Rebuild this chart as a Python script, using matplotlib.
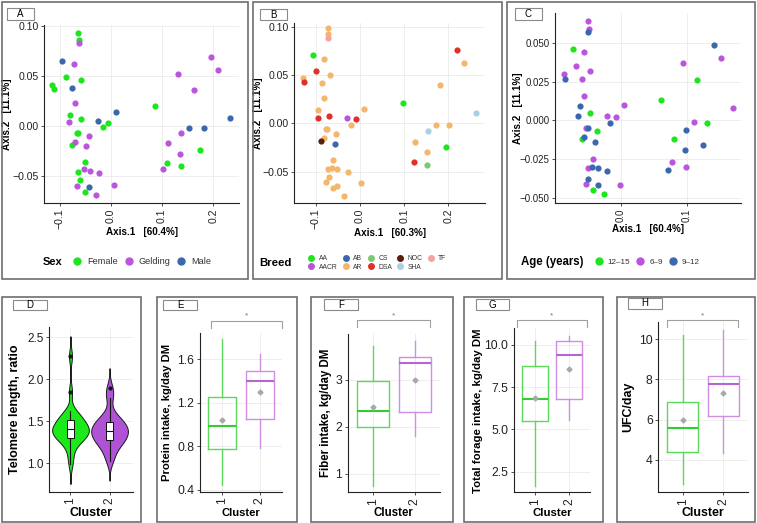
import matplotlib
matplotlib.use("Agg")
import matplotlib.pyplot as plt
import numpy as np
from matplotlib.lines import Line2D
from matplotlib.patches import Rectangle

W, H = 757, 523
plt.rcParams['font.family'] = ['Liberation Sans', 'DejaVu Sans']

GREEN = '#1ee61e'
PURPLE = '#bb55dd'
BLUE = '#3b67ad'

# ---- panel A: PCoA coloured by sex ----
female_x = [-0.065, -0.062, -0.115, -0.112, -0.089, -0.059, -0.081, -0.059, -0.066, -0.064, -0.076,
            -0.016, -0.005, -0.051, -0.064, -0.061, -0.051, 0.086, 0.109, 0.136, 0.174]
female_y = [0.093, 0.086, 0.041, 0.037, 0.049, 0.046, 0.011, 0.007, -0.007, -0.007, -0.019,
            -0.001, 0.003, -0.036, -0.046, -0.054, -0.066, 0.020, -0.037, -0.040, -0.024]
gelding_x = [-0.063, -0.072, -0.071, -0.083, -0.044, -0.071, -0.048, -0.053, -0.042, -0.024, -0.067,
             0.005, -0.029, 0.132, 0.162, 0.196, 0.209, 0.137, 0.112, 0.135, 0.101]
gelding_y = [0.083, 0.062, 0.023, 0.004, -0.010, -0.016, -0.020, -0.043, -0.045, -0.047, -0.060,
             -0.059, -0.069, 0.052, 0.036, 0.069, 0.056, -0.007, -0.017, -0.028, -0.043]
male_x = [-0.095, -0.076, 0.010, -0.025, -0.043, 0.153, 0.181, 0.233]
male_y = [0.065, 0.038, 0.014, 0.005, -0.061, -0.002, -0.002, 0.008]

# ---- panel B: PCoA coloured by breed ----
breeds = ['AA', 'AACR', 'AB', 'AR', 'CS', 'DSA', 'NOC', 'SHA', 'TF']
breed_colors = ['#1ee61e', '#b955d8', '#3b67ad', '#f5b56b', '#7cc873', '#e0302a', '#5a1e0a', '#a9cfe3', '#f4a3a3']
ar_x = [-0.073, -0.072, -0.081, -0.129, -0.086, -0.068, -0.081, -0.094, -0.076, -0.074, -0.081,
        -0.054, -0.021, 0.010, -0.062, -0.073, -0.064, -0.051, -0.070, -0.077, -0.060, -0.052,
        -0.028, 0.002, -0.037, 0.182, 0.234, 0.171, 0.202, 0.125, 0.152]
ar_y = [0.099, 0.092, 0.067, 0.047, 0.042, 0.050, 0.026, 0.014, -0.006, -0.006, -0.015,
        -0.011, -0.002, 0.015, -0.038, -0.047, -0.046, -0.047, -0.055, -0.061, -0.067, -0.065,
        -0.050, -0.062, -0.075, 0.040, 0.062, -0.002, -0.002, -0.019, -0.030]
aa_x = [-0.107, 0.097, 0.195]
aa_y = [0.071, 0.021, -0.024]
dsa_x = [-0.100, -0.127, -0.096, -0.069, -0.008, 0.121, 0.220]
dsa_y = [0.054, 0.043, 0.006, 0.008, 0.004, -0.040, 0.076]
aacr_x = [-0.030]
aacr_y = [0.006]
ab_x = [-0.057]
ab_y = [-0.021]
cs_x = [0.152]
cs_y = [-0.043]
noc_x = [-0.089]
noc_y = [-0.018]
sha_x = [0.153, 0.263]
sha_y = [-0.008, 0.011]
tf_x = [-0.072]
tf_y = [0.088]

# ---- panel C: PCoA coloured by age ----
age_6_9_x = [-0.050, -0.048, -0.057, -0.069, -0.047, -0.087, -0.059, -0.056, 0.004, -0.022, -0.007,
             -0.053, -0.042, -0.051, -0.054, -0.001, 0.094, 0.152, 0.170, 0.111, 0.078, 0.099]
age_6_9_y = [0.064, 0.059, 0.044, 0.035, 0.032, 0.030, 0.027, 0.016, 0.010, 0.003, 0.002,
             -0.005, -0.025, -0.031, -0.041, -0.042, 0.037, 0.040, 0.008, -0.001, -0.027, -0.030]
age_9_12_x = [-0.050, -0.085, -0.062, -0.065, -0.051, -0.056, -0.040, -0.016, -0.044, -0.035, -0.021,
              -0.050, -0.035, 0.142, 0.099, 0.098, 0.125, 0.072]
age_9_12_y = [0.057, 0.027, 0.009, 0.003, -0.005, -0.011, -0.014, -0.002, -0.030, -0.031, -0.033,
              -0.038, -0.042, 0.049, -0.006, -0.019, -0.016, -0.032]
age_12_15_x = [-0.073, -0.047, -0.037, -0.060, -0.042, -0.026, 0.061, 0.116, 0.131, 0.080]
age_12_15_y = [0.046, 0.005, -0.007, -0.012, -0.045, -0.048, 0.013, 0.026, -0.002, -0.012]

# ---- panel D: telomere length per cluster ----
telomere_c1 = [0.99, 1.10, 1.19, 1.25, 1.28, 1.29, 1.30, 1.31, 1.34, 1.36, 1.38, 1.39, 1.40,
               1.40, 1.41, 1.43, 1.45, 1.47, 1.50, 1.52, 1.53, 1.56, 1.59, 1.62, 1.85, 2.27]
telomere_c2 = [1.03, 1.12, 1.19, 1.23, 1.26, 1.28, 1.31, 1.34, 1.36, 1.38, 1.40, 1.42, 1.45,
               1.48, 1.50, 1.53, 1.60, 1.78, 1.89]

# ---- panels E-H: box summaries [whisker low, q1, median, q3, whisker high, mean] ----
protein = [[0.44, 0.777, 0.983, 1.25, 1.79, 1.038], [0.784, 1.054, 1.40, 1.493, 1.646, 1.302]]
fiber = [[0.75, 2.0, 2.34, 2.96, 3.72, 2.41], [1.81, 2.32, 3.36, 3.48, 3.81, 2.99]]
forage = [[1.7, 5.5, 6.82, 8.76, 10.24, 6.88], [5.56, 6.82, 9.37, 10.24, 10.53, 8.59]]
ufc = [[2.77, 4.40, 5.56, 6.89, 10.22, 5.96], [4.33, 6.16, 7.77, 8.19, 10.47, 7.34]]

fig = plt.figure(figsize=(W / 100, H / 100), dpi=100)


def add_ax(x0, y0, x1, y1):
    return fig.add_axes([x0 / W, 1 - y1 / H, (x1 - x0) / W, (y1 - y0) / H])


def frame(x0, y0, x1, y1):
    fig.add_artist(Rectangle((x0 / W, 1 - y1 / H), (x1 - x0) / W, (y1 - y0) / H,
                             transform=fig.transFigure, fill=False, ec='#6e6e6e', lw=1.2))


def tag(x0, y0, x1, y1, letter):
    fig.add_artist(Rectangle((x0 / W, 1 - y1 / H), (x1 - x0) / W, (y1 - y0) / H,
                             transform=fig.transFigure, fc='white', ec='#8a8a8a', lw=0.8))
    fig.text((x0 + x1) / 2 / W, 1 - (y0 + y1) / 2 / H, letter, ha='center', va='center', fontsize=7)


def style(ax, size):
    for s in ['top', 'right']:
        ax.spines[s].set_visible(False)
    for s in ['left', 'bottom']:
        ax.spines[s].set_color('#222222')
        ax.spines[s].set_linewidth(0.8)
    ax.grid(True, color='#ebebeb', lw=0.6)
    ax.set_axisbelow(True)
    ax.tick_params(labelsize=size, length=2.5, width=0.6, color='#333333', labelcolor='#222222', pad=1.5)
    ax.tick_params(axis='x', labelrotation=90)


def labels(ax, xl, yl, xpos, ypos, size):
    ax.set_xlabel(xl, fontsize=size, fontweight='bold', va='center')
    ax.set_ylabel(yl, fontsize=size, fontweight='bold', va='center')
    ax.xaxis.set_label_coords(0.5, xpos)
    ax.yaxis.set_label_coords(ypos, 0.5)


def legend(ax, title, tx, ty, handles, names, x, ncol, fs, tfs, ms, spacing=0.25):
    fig.text(tx / W, 1 - ty / H, title, fontsize=tfs, fontweight='bold', va='center')
    ax.legend(handles, names, ncol=ncol, loc='center left', bbox_to_anchor=(x / W, 1 - ty / H),
              bbox_transform=fig.transFigure, frameon=False, fontsize=fs, handlelength=0.8,
              handletextpad=0.7, columnspacing=0.8, borderpad=0, borderaxespad=0,
              labelspacing=spacing, labelcolor='#333333')


def dot(c, ms):
    return Line2D([], [], ls='', marker='o', ms=ms, mfc=c, mec=c)


# ---------------- A ----------------
frame(1.5, 1.5, 248, 278.5)
ax = add_ax(44.3, 25, 239.3, 203.3)
for xs, ys, c in [(female_x, female_y, GREEN), (gelding_x, gelding_y, PURPLE), (male_x, male_y, BLUE)]:
    ax.scatter(xs, ys, s=20, color=c, lw=0, zorder=3)
ax.set_xlim(-0.1305, 0.251)
ax.set_ylim(-0.077, 0.1013)
ax.set_xticks([-0.1, 0.0, 0.1, 0.2])
ax.set_yticks([-0.05, 0.0, 0.05, 0.10])
ax.set_yticklabels(['\u22120.05', '0.00', '0.05', '0.10'])
ax.set_xticklabels(['\u22120.1', '0.0', '0.1', '0.2'])
style(ax, 7.6)
labels(ax, 'Axis.1   [60.4%]', 'Axis.2   [11.1%]', -0.161, -0.193, 7.1)
legend(ax, 'Sex', 43, 262, [dot(GREEN, 5), dot(PURPLE, 5), dot(BLUE, 5)],
       ['Female', 'Gelding', 'Male'], 73, 3, 6.6, 8, 5)
tag(7, 8, 34, 20, 'A')

# ---------------- B ----------------
frame(252.7, 1.5, 502, 278.5)
ax = add_ax(294.3, 23.3, 485, 202.7)
breed_x = [aa_x, aacr_x, ab_x, ar_x, cs_x, dsa_x, noc_x, sha_x, tf_x]
breed_y = [aa_y, aacr_y, ab_y, ar_y, cs_y, dsa_y, noc_y, sha_y, tf_y]
for i in [3, 0, 1, 2, 4, 5, 6, 7, 8]:
    ax.scatter(breed_x[i], breed_y[i], s=20, color=breed_colors[i], lw=0, zorder=3)
ax.set_xlim(-0.1485, 0.2826)
ax.set_ylim(-0.082, 0.1034)
ax.set_xticks([-0.1, 0.0, 0.1, 0.2])
ax.set_yticks([-0.05, 0.0, 0.05, 0.10])
ax.set_yticklabels(['\u22120.05', '0.00', '0.05', '0.10'])
ax.set_xticklabels(['\u22120.1', '0.0', '0.1', '0.2'])
style(ax, 7.6)
labels(ax, 'Axis.1   [60.3%]', 'Axis.2   [11.1%]', -0.167, -0.189, 7.1)
legend(ax, 'Breed', 259, 263, [dot(c, 4) for c in breed_colors], breeds, 308.5, 5, 4.9, 8.2, 4,
       spacing=0.2)
tag(260, 9.3, 287.3, 20, 'B')

# ---------------- C ----------------
frame(506.7, 1.5, 754.5, 278.5)
ax = add_ax(555, 12.7, 741, 203.3)
for xs, ys, c in [(age_12_15_x, age_12_15_y, GREEN), (age_6_9_x, age_6_9_y, PURPLE),
                  (age_9_12_x, age_9_12_y, BLUE)]:
    ax.scatter(xs, ys, s=20, color=c, lw=0, zorder=3)
ax.set_xlim(-0.1005, 0.1827)
ax.set_ylim(-0.0537, 0.0696)
ax.set_xticks([0.0, 0.1])
ax.set_yticks([-0.05, -0.025, 0.0, 0.025, 0.05])
ax.set_yticklabels(['\u22120.050', '\u22120.025', '0.000', '0.025', '0.050'])
ax.set_xticklabels(['0.0', '0.1'])
style(ax, 7.0)
labels(ax, 'Axis.1   [60.4%]', 'Axis.2   [11.1%]', -0.135, -0.197, 7.1)
legend(ax, 'Age (years)', 521, 262, [dot(GREEN, 5), dot(PURPLE, 5), dot(BLUE, 5)],
       ['12\u201315', '6\u20139', '9\u201312'], 595.5, 3, 5.9, 8.3, 5)
tag(515, 8.3, 541.7, 20, 'C')

# ---------------- D ----------------
frame(1.5, 297, 141, 521.5)
ax = add_ax(49, 327, 133, 492)
bw = 0.08
for pos, vals, c in [(1, telomere_c1, '#1aea1a'), (2, telomere_c2, '#b052d6')]:
    v = np.array(vals)
    grid = np.linspace(v.min() - 3 * bw, v.max() + 3 * bw, 400)
    dens = np.exp(-0.5 * ((grid[:, None] - v[None, :]) / bw) ** 2).sum(axis=1)
    dens = dens / dens.max() * 0.47
    ax.fill_betweenx(grid, pos - dens, pos + dens, fc=c, ec='#1a1a1a', lw=0.7, zorder=2)
ax.boxplot([telomere_c1, telomere_c2], positions=[1, 2], widths=0.2, patch_artist=True,
           showcaps=False, zorder=3,
           boxprops=dict(facecolor='white', edgecolor='#111111', lw=0.7),
           medianprops=dict(color='#111111', lw=0.8),
           whiskerprops=dict(color='#111111', lw=0.8),
           flierprops=dict(marker='o', mfc='#111111', mec='#111111', ms=2))
ax.set_xlim(0.45, 2.6)
ax.set_ylim(0.655, 2.62)
ax.set_xticks([1, 2])
ax.set_xticklabels(['1', '2'])
ax.set_yticks([1.0, 1.5, 2.0, 2.5])
style(ax, 8.5)
labels(ax, 'Cluster', 'Telomere length, ratio', -0.127, -0.405, 9)
tag(13.3, 300, 46.7, 310, 'D')


# ---------------- E-H ----------------
def box_panel(rect, frame_rect, tag_rect, letter, stats, ylim, yticks, yticklabels, ylabel,
              yl_pos, xl_pos, ylab_size, bracket_x, bracket_y):
    frame(*frame_rect)
    ax = add_ax(*rect)
    bx = [dict(whislo=s[0], q1=s[1], med=s[2], q3=s[3], whishi=s[4], mean=s[5], fliers=[]) for s in stats]
    res = ax.bxp(bx, positions=[1, 2], widths=0.75, showcaps=False, showfliers=False, showmeans=True,
                 meanprops=dict(marker='D', mfc='#a8a8a8', mec='#a8a8a8', ms=2.5))
    for i, (c, mc) in enumerate([('#5ada5a', '#33cc33'), ('#d08ee2', '#b865d2')]):
        res['boxes'][i].set_color(c)
        res['boxes'][i].set_linewidth(1.0)
        res['whiskers'][2 * i].set_color(c)
        res['whiskers'][2 * i + 1].set_color(c)
        res['medians'][i].set_color(mc)
        res['medians'][i].set_linewidth(1.5)
    ax.set_xlim(0.4, 2.6)
    ax.set_ylim(*ylim)
    ax.set_xticks([1, 2])
    ax.set_xticklabels(['1', '2'])
    ax.set_yticks(yticks)
    ax.set_yticklabels(yticklabels)
    style(ax, 8.8)
    labels(ax, 'Cluster', ylabel, xl_pos, yl_pos, ylab_size)
    top, arm, star = bracket_y
    ax.plot([bracket_x[0], bracket_x[0], bracket_x[1], bracket_x[1]], [arm, top, top, arm],
            color='#a0a0a0', lw=0.8, clip_on=False)
    ax.text(sum(bracket_x) / 2, star, '*', ha='center', va='center', fontsize=6, color='#777777',
            clip_on=False)
    tag(*tag_rect, letter)


box_panel((200, 333, 282, 492), (157, 297, 297, 521.5), (163, 300, 197, 310), 'E', protein,
          (0.379, 1.843), [0.4, 0.8, 1.2, 1.6], ['0.4', '0.8', '1.2', '1.6'],
          'Protein intake, kg/day DM', -0.40, -0.132, 8.1, (0.7, 2.6), (1.95, 1.89, 2.0))
box_panel((347.7, 334.3, 440, 492.3), (311, 297, 452.7, 521.5), (324, 299, 357.7, 310), 'F', fiber,
          (0.61, 3.96), [1, 2, 3], ['1', '2', '3'],
          'Fiber intake, kg/day DM', -0.235, -0.133, 8.3, (0.63, 2.37), (4.265, 4.11, 4.36))
box_panel((514, 328.3, 590, 492.3), (464.3, 297, 602.7, 521.5), (475.7, 299, 509, 310), 'G', forage,
          (1.3, 10.96), [2.5, 5.0, 7.5, 10.0], ['2.5', '5.0', '7.5', '10.0'],
          'Total forage intake, kg/day DM', -0.47, -0.128, 8.2, (0.5, 2.5), (11.43, 11.02, 11.7))
box_panel((658.3, 321.7, 747.7, 492.3), (617.3, 297, 755, 521.5), (628.3, 297.7, 661.7, 309), 'H', ufc,
          (2.37, 10.88), [4, 6, 8, 10], ['4', '6', '8', '10'],
          'UFC/day', -0.336, -0.123, 8.9, (0.62, 2.35), (10.96, 10.6, 11.18))

fig.savefig('out.png', dpi=100)
